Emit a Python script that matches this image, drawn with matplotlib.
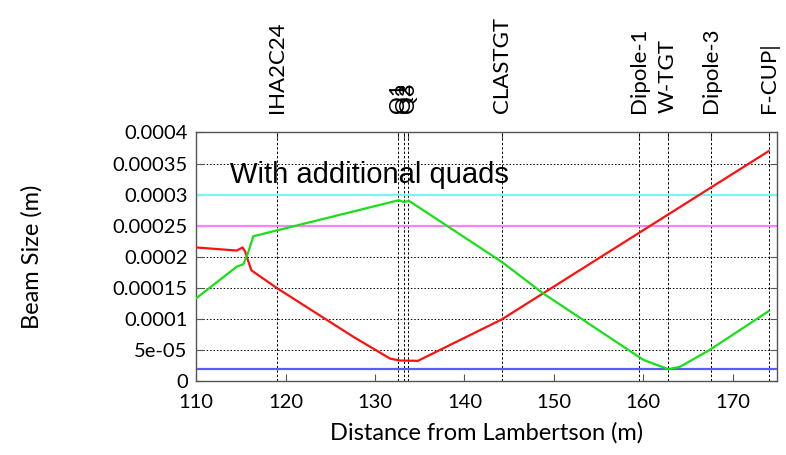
import matplotlib
matplotlib.use("Agg")
import matplotlib.pyplot as plt

# ---------- datos ----------
red_s = [110.0, 114.55, 115.2, 115.5, 115.85, 116.2, 119.1, 127.6, 131.7, 132.8, 134.8, 144.15, 174.0]
red_y = [2.15e-4, 2.10e-4, 2.15e-4, 2.08e-4, 1.92e-4, 1.78e-4, 1.49e-4, 7.1e-5, 3.6e-5, 3.3e-5, 3.25e-5, 9.9e-5, 3.7e-4]

green_s = [110.0, 114.55, 115.3, 115.85, 116.4, 132.65, 133.25, 133.8, 144.15, 148.8, 160.0, 162.8, 164.1, 167.4, 174.0]
green_y = [1.33e-4, 1.84e-4, 1.88e-4, 2.08e-4, 2.33e-4, 2.91e-4, 2.88e-4, 2.90e-4, 1.92e-4, 1.41e-4, 3.4e-5, 1.9e-5, 2.3e-5, 5.0e-5, 1.125e-4]

limits = [3.0e-4, 2.5e-4, 2.0e-5]
limit_colors = ["#80f4f4", "#ff80ff", "#5a5aff"]

elem_names = ["IHA2C24", "Q1", "Q2", "Q3", "CLASTGT", "Dipole-1", "W-TGT", "Dipole-3", "F-CUP|"]
elem_s = [119.1, 132.6, 133.2, 133.7, 144.15, 159.5, 162.7, 167.6, 174.05]

xticks = [110, 120, 130, 140, 150, 160, 170]
yticks = [0, 5e-5, 1e-4, 1.5e-4, 2e-4, 2.5e-4, 3e-4, 3.5e-4, 4e-4]
ytick_labels = ["0", "5e-05", "0.0001", "0.00015", "0.0002", "0.00025", "0.0003", "0.00035", "0.0004"]

plt.rcParams['font.family'] = ['Lato', 'DejaVu Sans']

fig = plt.figure(figsize=(7.86, 4.55), dpi=100)
ax = fig.add_axes([0.2494, 0.1626, 0.7388, 0.5462])

# lineas horizontales de referencia
for yv, c in zip(limits, limit_colors):
    ax.axhline(yv, color=c, lw=1.6, zorder=2)

# elementos del haz
for s in elem_s:
    ax.axvline(s, color='black', lw=0.7, ls=(0, (2.5, 2)), zorder=1)

ax.plot(red_s, red_y, color='#ff1010', lw=1.6, zorder=3)
ax.plot(green_s, green_y, color='#18e018', lw=1.6, zorder=3)

ax.set_xlim(110, 174.9)
ax.set_ylim(0, 4e-4)
ax.set_xticks(xticks)
ax.set_yticks(yticks)
ax.set_yticklabels(ytick_labels)
ax.yaxis.grid(True, color='black', ls=(0, (1.5, 2)), lw=0.7)
ax.set_axisbelow(True)

ax.tick_params(axis='both', direction='in', length=5, labelsize=14.5, color='#555555')
ax.tick_params(axis='x', top=False, pad=9)
ax.tick_params(axis='y', right=True, pad=6)
for sp in ax.spines.values():
    sp.set_color('#555555')
    sp.set_linewidth(1.0)

ax.set_xlabel("Distance from Lambertson (m)", fontsize=17, labelpad=8)
ax.set_ylabel("Beam Size (m)", fontsize=17, labelpad=50)

ax.text(113.8, 3.31e-4, "With additional quads", fontsize=21,
        family='Liberation Sans', va='center', ha='left', zorder=4)

# etiquetas superiores (x2tics)
sec = ax.secondary_xaxis('top')
sec.set_xticks(elem_s)
sec.set_xticklabels(elem_names, rotation=90, fontsize=16)
sec.tick_params(direction='in', length=5, pad=14, color='#555555')
sec.spines['top'].set_visible(False)

fig.savefig("out.png", dpi=100)
